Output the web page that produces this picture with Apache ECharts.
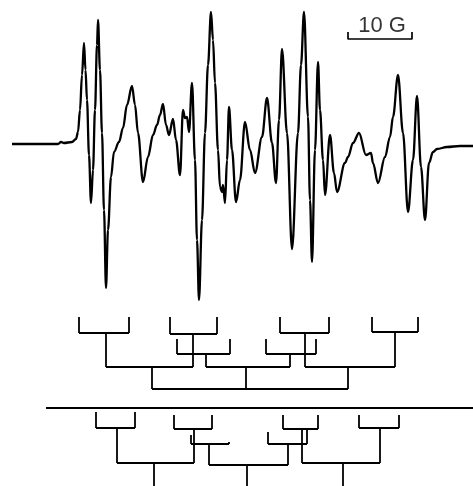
<!DOCTYPE html>
<html>
<head>
<meta charset="utf-8">
<script src="https://cdn.jsdelivr.net/npm/echarts@6/dist/echarts.min.js"></script>
<style>
  html, body { margin: 0; padding: 0; background: #fff; }
  #chart { width: 473px; height: 486px; }
</style>
</head>
<body>
<div id="chart"></div>
<script>
// EPR spectrum: field position (arb. units, 64 units = 10 G) and derivative signal
const field = [12, 30, 50, 58, 61, 64, 72, 76, 78, 80, 82, 84, 85.5, 87, 89, 91, 93, 95, 97, 98,
  100, 102, 104, 106, 108, 111, 114, 119, 123, 127, 132, 135, 138, 143, 148, 153, 157, 160, 163, 166,
  169, 173, 176, 180, 183, 185, 187, 189, 192, 195, 197, 199, 202, 205, 208, 211, 213, 215, 218, 220,
  222, 223, 225, 227, 229, 232, 236, 240, 245, 250, 255, 262, 267, 272, 276, 279, 282, 287, 292, 298,
  301, 304, 308, 310, 312, 315, 318, 320, 323, 325, 330, 334, 337, 345, 348, 353, 359, 366, 371, 373,
  378, 385, 390, 393, 398, 403, 408, 413, 417, 421, 425, 429, 433, 437, 447, 460, 473];
const signal = [0, 0, 0, 0, 2, 1, 2, 5, 12, 34, 69, 101, 74, 44, -11, -59, -26, 34, 99, 124,
  74, 11, -66, -144, -86, -33, -8, 2, 16, 39, 58, 39, 11, -38, -13, 9, 19, 29, 40, 19,
  9, 25, 4, -31, 34, 26, 27, 12, 61, -16, -96, -156, -76, 11, 79, 132, 104, 61, -6, -43,
  -48, -41, -59, -16, 37, -6, -58, -36, 22, -6, -29, 7, 46, 1, -39, 24, 95, 11, -105, 11,
  79, 132, 27, -56, -118, -6, 82, 34, -16, -51, 9, -29, -48, -19, -13, 1, 11, -11, -9, -19,
  -39, -13, 7, 27, 69, 11, -68, -16, 48, -23, -76, -19, -8, -5, -3, -2, -2];

// scale bar (10 G)
const scaleBarField = [348, 412];
const scaleBarLevel = [105, 112];
const scaleLabel = '10 G';
const scaleLabelAt = [382, 118];

// splitting diagrams: each fork has a bar level and legs [position, tip level]
const upperForks = [
  { bar: 33, legs: [[79, 17], [129, 17]] },
  { bar: 34, legs: [[170, 17], [217, 17]] },
  { bar: 54, legs: [[177, 39], [230, 39]] },
  { bar: 54, legs: [[266, 39], [316, 39]] },
  { bar: 33, legs: [[280, 17], [329, 17]] },
  { bar: 32, legs: [[372, 17], [418, 17]] },
  { bar: 67, legs: [[106, 33], [193, 34]] },
  { bar: 67, legs: [[206, 54], [290, 54]] },
  { bar: 67, legs: [[305, 33], [395, 32]] },
  { bar: 89, legs: [[152, 67], [246, 67], [348, 67]] }
];
const separator = { level: 108, from: 46, to: 473 };
const lowerForks = [
  { bar: 128, legs: [[96, 112], [135, 112]] },
  { bar: 129, legs: [[174, 115], [212, 115]] },
  { bar: 144, legs: [[191, 135], [229, 142]] },
  { bar: 144, legs: [[268, 132], [307, 130]] },
  { bar: 129, legs: [[283, 115], [318, 115]] },
  { bar: 128, legs: [[359, 115], [399, 115]] },
  { bar: 163, legs: [[117, 128], [194, 129]] },
  { bar: 165, legs: [[209, 144], [288, 144]] },
  { bar: 163, legs: [[302, 129], [380, 128]] },
  { bar: 196, legs: [[154, 163], [247, 165], [343, 163]] }
];

function forkSegments(forks) {
  const segs = [];
  forks.forEach(f => {
    const xs = f.legs.map(l => l[0]);
    segs.push([[Math.min(...xs), f.bar], [Math.max(...xs), f.bar]]);
    f.legs.forEach(l => segs.push([[l[0], f.bar], [l[0], l[1]]]));
  });
  return segs;
}

const treeSegments = forkSegments(upperForks)
  .concat(forkSegments(lowerForks))
  .concat([[[separator.from, separator.level], [separator.to, separator.level]]]);

const chart = echarts.init(document.getElementById('chart'));

const option = {
  backgroundColor: '#fff',
  animation: false,
  grid: [
    { left: 0, right: 0, top: 0, height: 310 },
    { left: 0, right: 0, top: 300, bottom: 0 }
  ],
  xAxis: [
    { type: 'value', min: 0, max: 473, show: false, gridIndex: 0 },
    { type: 'value', min: 0, max: 473, show: false, gridIndex: 1 }
  ],
  yAxis: [
    { type: 'value', min: -166, max: 144, show: false, gridIndex: 0 },
    { type: 'value', min: 0, max: 186, inverse: true, show: false, gridIndex: 1 }
  ],
  series: [
    {
      type: 'line',
      data: field.map((x, i) => [x, signal[i]]),
      showSymbol: false,
      smooth: 0.35,
      smoothMonotone: 'x',
      lineStyle: { color: '#000', width: 2.3 },
      silent: true
    },
    {
      type: 'line',
      data: [
        [scaleBarField[0], scaleBarLevel[1]],
        [scaleBarField[0], scaleBarLevel[0]],
        [scaleBarField[1], scaleBarLevel[0]],
        [scaleBarField[1], scaleBarLevel[1]]
      ],
      showSymbol: false,
      lineStyle: { color: '#000', width: 1.7 },
      silent: true
    },
    {
      type: 'scatter',
      data: [scaleLabelAt],
      symbolSize: 0,
      label: {
        show: true,
        position: 'inside',
        formatter: scaleLabel,
        color: '#000',
        fontSize: 22,
        fontFamily: 'Liberation Sans'
      },
      silent: true
    },
    {
      type: 'lines',
      coordinateSystem: 'cartesian2d',
      xAxisIndex: 1,
      yAxisIndex: 1,
      data: treeSegments.map(s => ({ coords: s })),
      lineStyle: { color: '#000', width: 1.8, opacity: 1 },
      silent: true
    }
  ]
};

chart.setOption(option);
window.addEventListener('resize', () => chart.resize());
</script>
</body>
</html>
